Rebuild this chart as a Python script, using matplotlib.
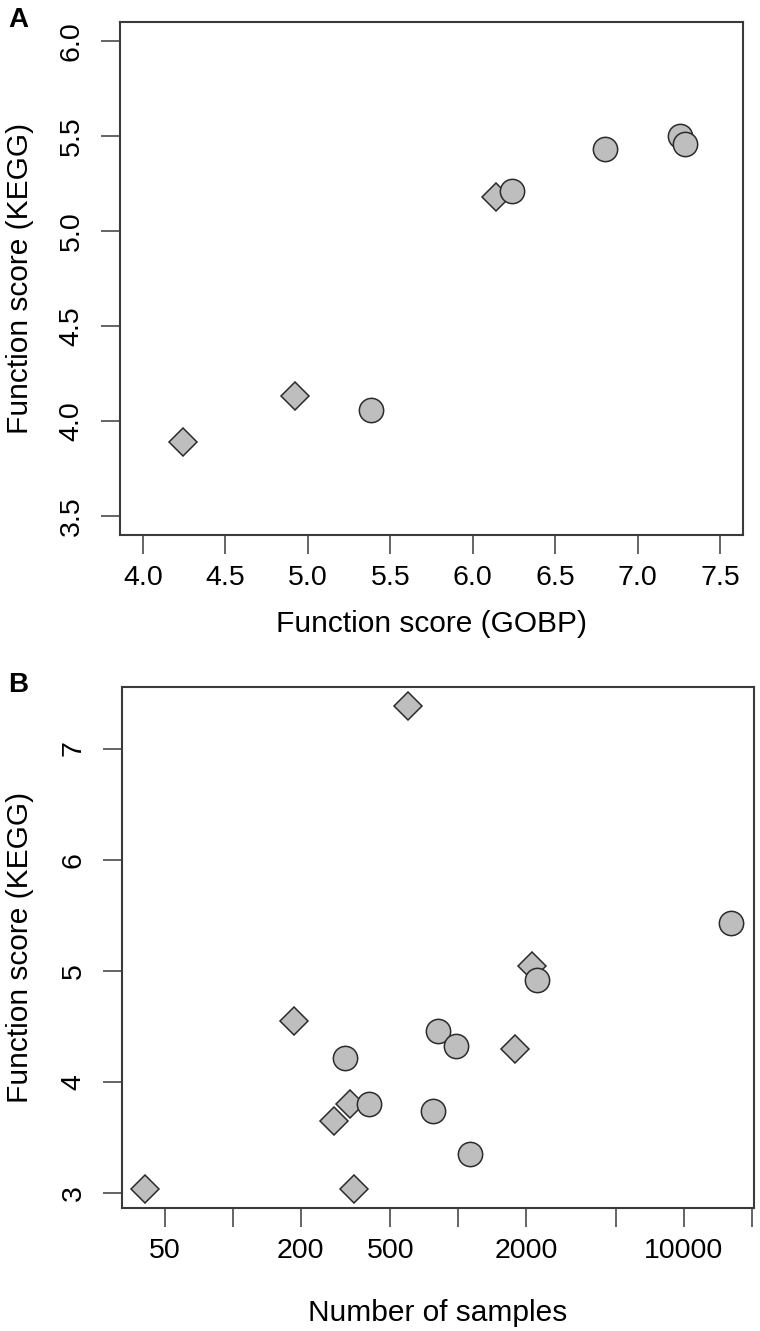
import matplotlib

matplotlib.use("Agg")
import matplotlib.pyplot as plt

plt.rcParams["font.family"] = ["Liberation Sans", "DejaVu Sans"]

# Panel A: function score GOBP vs KEGG
a_diamond_gobp = [4.24, 4.92, 6.14]
a_diamond_kegg = [3.89, 4.13, 5.18]
a_circle_gobp = [5.38, 6.24, 6.80, 7.26, 7.29]
a_circle_kegg = [4.06, 5.21, 5.43, 5.50, 5.46]

# Panel B: number of samples vs KEGG score
b_diamond_n = [599, 2116, 186, 1788, 331, 280, 41, 346]
b_diamond_kegg = [7.38, 5.04, 4.55, 4.30, 3.80, 3.65, 3.04, 3.04]
b_circle_n = [16090, 2234, 810, 973, 313, 403, 768, 1123]
b_circle_kegg = [5.43, 4.92, 4.46, 4.32, 4.22, 3.80, 3.74, 3.35]

a_xticks = [4.0, 4.5, 5.0, 5.5, 6.0, 6.5, 7.0, 7.5]
a_yticks = [3.5, 4.0, 4.5, 5.0, 5.5, 6.0]
b_xticks = [50, 100, 200, 500, 1000, 2000, 5000, 10000, 20000]
b_xlabels = ["50", "", "200", "500", "", "2000", "", "10000", ""]
b_yticks = [3, 4, 5, 6, 7]

W, H = 760, 1331
FILL = "#bebebe"
EDGE = "#2b2b2b"
FRAME = "#3a3a3a"


def px_axes(fig, left, right, top, bottom):
    return fig.add_axes([left / W, 1 - bottom / H, (right - left) / W, (bottom - top) / H])


def style(ax):
    for sp in ax.spines.values():
        sp.set_color(FRAME)
        sp.set_linewidth(1.5)
    ax.tick_params(direction="out", length=13.5, width=1.1, color=FRAME,
                   labelsize=20.5)
    ax.tick_params(axis="x", pad=8)
    ax.tick_params(axis="y", pad=12)
    for lab in ax.get_yticklabels():
        lab.set_rotation(90)
        lab.set_va("center")
        lab.set_ha("right")


def points(ax, x, y, marker, ms):
    ax.plot(x, y, linestyle="none", marker=marker, ms=ms,
            mfc=FILL, mec=EDGE, mew=1.1)


fig = plt.figure(figsize=(W / 100, H / 100), dpi=100)

# ---- A ----
ax1 = px_axes(fig, 120, 743, 22, 535)
points(ax1, a_diamond_gobp, a_diamond_kegg, "D", 14.0)
points(ax1, a_circle_gobp, a_circle_kegg, "o", 17.5)
ax1.set_xlim(4.0 - 0.14, 7.5 + 0.14)
ax1.set_ylim(3.5 - 0.1, 6.0 + 0.1)
ax1.set_xticks(a_xticks)
ax1.set_xticklabels([f"{v:.1f}" for v in a_xticks])
ax1.set_yticks(a_yticks)
ax1.set_yticklabels([f"{v:.1f}" for v in a_yticks])
style(ax1)
ax1.set_xlabel("Function score (GOBP)", fontsize=21.5, va="center")
ax1.xaxis.set_label_coords(0.5, -0.1735)
ax1.set_ylabel("Function score (KEGG)", fontsize=21.5, va="center")
ax1.yaxis.set_label_coords(-0.1606, 0.5)
fig.text(8 / W, 1 - 20 / H, "A", fontsize=20, fontweight="bold", va="center", ha="left")

# ---- B ----
ax2 = px_axes(fig, 122, 754, 687, 1208)
points(ax2, b_diamond_n, b_diamond_kegg, "D", 14.0)
points(ax2, b_circle_n, b_circle_kegg, "o", 17.5)
ax2.set_xscale("log")
ax2.margins(x=0.04, y=0.04)
ax2.minorticks_off()
ax2.set_xticks(b_xticks)
ax2.set_xticklabels(b_xlabels)
ax2.tick_params(axis="x", which="minor", bottom=False)
ax2.set_yticks(b_yticks)
ax2.set_yticklabels([str(v) for v in b_yticks])
style(ax2)
ax2.set_xlabel("Number of samples", fontsize=21.5, va="center")
ax2.xaxis.set_label_coords(0.5, -0.2014)
ax2.set_ylabel("Function score (KEGG)", fontsize=21.5, va="center")
ax2.yaxis.set_label_coords(-0.162, 0.5)
fig.text(8 / W, 1 - 685 / H, "B", fontsize=20, fontweight="bold", va="center", ha="left")

fig.savefig("out.png", dpi=100)
